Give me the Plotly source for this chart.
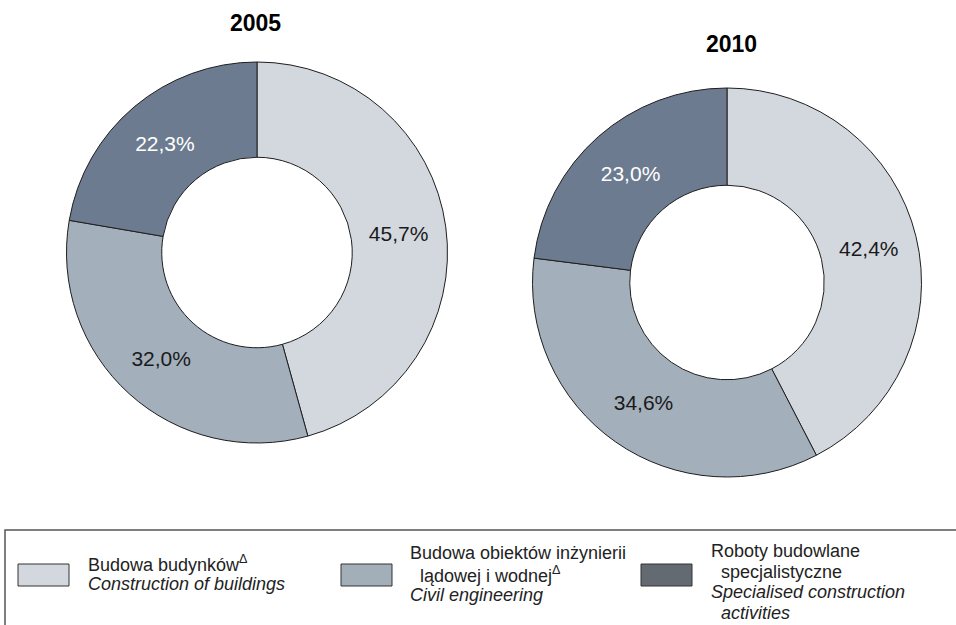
import plotly.graph_objects as go

# Shares of construction output by type of work
years = ["2005", "2010"]
categories = ["Budowa budynków", "Budowa obiektów inżynierii lądowej i wodnej",
              "Roboty budowlane specjalistyczne"]
shares_2005 = [45.7, 32.0, 22.3]
shares_2010 = [42.4, 34.6, 23.0]

slice_colors = ["#d3d8df", "#a3afba", "#6d7b90"]
label_colors = ["#1a1a1a", "#1a1a1a", "#ffffff"]
legend_swatch_colors = ["#d3d7de", "#a2aeb8", "#646a72"]

legend_lines = [
    ["Budowa budynków<sup>Δ</sup>", "<i>Construction of buildings</i>"],
    ["Budowa obiektów inżynierii", "  lądowej i wodnej<sup>Δ</sup>", "<i>Civil engineering</i>"],
    ["Roboty budowlane", "  specjalistyczne", "<i>Specialised construction</i>", "<i>  activities</i>"],
]

W, H = 956, 625
FONT = "Liberation Sans, Arial, sans-serif"


def px_x(x):
    return x / W


def px_y(y):
    return 1 - y / H


def pie_domain(cx, cy, r):
    return dict(x=[px_x(cx - r), px_x(cx + r)], y=[px_y(cy + r), px_y(cy - r)])


def fmt(v):
    return f"{v:.1f}".replace(".", ",") + "%"


fig = go.Figure()
for vals, dom in [(shares_2005, pie_domain(257, 252.5, 190.5)),
                  (shares_2010, pie_domain(727, 282.5, 194.5))]:
    fig.add_trace(go.Pie(
        labels=categories,
        values=vals,
        text=[fmt(v) for v in vals],
        textinfo="text",
        textposition="inside",
        insidetextorientation="horizontal",
        textfont=dict(family=FONT, size=21, color=label_colors),
        hole=0.5,
        sort=False,
        direction="clockwise",
        rotation=0,
        marker=dict(colors=slice_colors, line=dict(color="#1e1e1e", width=1)),
        domain=dom,
        showlegend=False,
        hoverinfo="label+percent",
    ))

annotations = [
    dict(text="<b>2005</b>", x=px_x(255), y=px_y(23.5)),
    dict(text="<b>2010</b>", x=px_x(731), y=px_y(43.5)),
]
for a in annotations:
    a.update(xref="paper", yref="paper", xanchor="center", yanchor="middle",
             showarrow=False, font=dict(family=FONT, size=23, color="#000000"))

shapes = [
    # legend frame (open on the right and bottom edges of the page)
    dict(type="rect", xref="paper", yref="paper",
         x0=px_x(5), x1=px_x(975), y0=px_y(660), y1=px_y(530),
         line=dict(color="#555555", width=1.5), fillcolor="rgba(0,0,0,0)"),
]

swatch_x = [18, 341, 641]
text_x = [86, 408, 709]
line_y = [[563, 584], [553, 574, 595], [551, 572, 592, 613]]
for i in range(3):
    shapes.append(dict(type="rect", xref="paper", yref="paper",
                       x0=px_x(swatch_x[i]), x1=px_x(swatch_x[i] + 51),
                       y0=px_y(586), y1=px_y(564),
                       fillcolor=legend_swatch_colors[i],
                       line=dict(color="#333333", width=1)))
    for line, y in zip(legend_lines[i], line_y[i]):
        annotations.append(dict(
            text=line.replace("  ", "\u00a0\u00a0"), x=px_x(text_x[i]), y=px_y(y),
            xref="paper", yref="paper", xanchor="left", yanchor="middle",
            showarrow=False, font=dict(family=FONT, size=18, color="#222222")))

fig.update_layout(
    width=W, height=H,
    margin=dict(l=0, r=0, t=0, b=0),
    paper_bgcolor="#ffffff",
    plot_bgcolor="#ffffff",
    annotations=annotations,
    shapes=shapes,
)

fig.write_html("out.html")
